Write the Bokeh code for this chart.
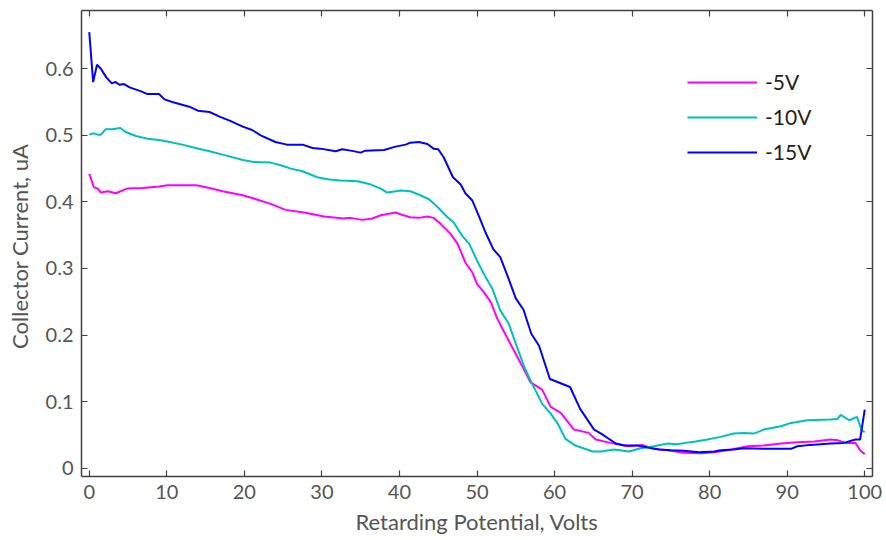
from bokeh.plotting import figure
from bokeh.models import Range1d, LinearAxis, FixedTicker, Legend, LegendItem
from bokeh.embed import file_html
from bokeh.resources import INLINE

# -15V series
x15 = [0, 0.5, 1.0, 1.5, 2.2, 2.9, 3.4, 3.9, 4.5, 5.2, 6.7, 7.5, 9.0, 9.7, 10.7, 12.9, 14.0, 15.5,
       16.8, 18.1, 19.8, 21.0, 22.1, 24.0, 25.5, 27.5, 28.8, 29.8, 31.8, 32.6, 33.7, 35.0, 35.6, 38.0,
       39.5, 40.8, 41.4, 42.5, 43.6, 44.4, 45.0, 45.7, 46.9, 47.9, 48.5, 49.4, 50.3, 51.1, 52.1, 53.0,
       53.9, 55.0, 56.0, 57.0, 58.0, 59.4, 62.0, 63.3, 65.1, 66.0, 67.9, 69.0, 70.7, 72.0, 73.5, 75.0,
       76.7, 78.6, 80.6, 81.4, 83.1, 84.4, 87.0, 90.5, 91.3, 93.0, 95.6, 97.3, 98.8, 99.4, 100.0]
y15 = [0.655, 0.580, 0.606, 0.600, 0.587, 0.578, 0.580, 0.576, 0.577, 0.572, 0.566, 0.562, 0.562, 0.554,
       0.550, 0.543, 0.537, 0.535, 0.528, 0.522, 0.513, 0.508, 0.500, 0.490, 0.486, 0.486, 0.481, 0.480,
       0.476, 0.479, 0.477, 0.474, 0.477, 0.478, 0.483, 0.486, 0.489, 0.490, 0.487, 0.480, 0.479, 0.467,
       0.437, 0.426, 0.413, 0.402, 0.377, 0.354, 0.329, 0.317, 0.290, 0.255, 0.238, 0.202, 0.184, 0.134,
       0.122, 0.089, 0.058, 0.052, 0.037, 0.034, 0.034, 0.031, 0.028, 0.027, 0.026, 0.024, 0.025, 0.027,
       0.028, 0.030, 0.029, 0.029, 0.033, 0.035, 0.037, 0.038, 0.043, 0.043, 0.088]

# -10V series
x10 = [0, 0.6, 1.1, 1.5, 2.1, 3.0, 4.0, 4.7, 6.0, 7.5, 9.0, 9.9, 12.0, 13.7, 15.5, 17.2, 19.8, 21.2,
       23.4, 24.7, 26.0, 27.5, 29.4, 30.7, 32.4, 34.6, 36.1, 37.6, 38.4, 40.2, 41.4, 42.7, 43.8, 44.5,
       45.1, 46.2, 47.0, 48.1, 49.0, 50.0, 51.1, 52.0, 53.0, 54.1, 55.0, 56.1, 57.1, 58.4, 59.5, 60.4,
       61.4, 62.7, 64.9, 66.0, 67.7, 69.6, 71.1, 72.8, 74.6, 75.8, 76.9, 78.2, 79.7, 81.4, 83.1, 84.4,
       85.7, 87.0, 89.2, 90.5, 92.6, 95.6, 96.5, 96.9, 98.0, 99.0, 99.6, 100.0]
y10 = [0.501, 0.503, 0.501, 0.501, 0.509, 0.509, 0.511, 0.505, 0.499, 0.495, 0.493, 0.491, 0.486, 0.481,
       0.476, 0.471, 0.463, 0.460, 0.459, 0.455, 0.450, 0.446, 0.437, 0.434, 0.432, 0.431, 0.427, 0.420,
       0.414, 0.417, 0.416, 0.410, 0.404, 0.397, 0.390, 0.377, 0.369, 0.349, 0.337, 0.312, 0.287, 0.269,
       0.237, 0.217, 0.187, 0.152, 0.127, 0.097, 0.082, 0.067, 0.044, 0.034, 0.025, 0.025, 0.028, 0.025,
       0.030, 0.033, 0.037, 0.036, 0.038, 0.040, 0.043, 0.047, 0.052, 0.053, 0.052, 0.058, 0.063, 0.068,
       0.072, 0.073, 0.074, 0.080, 0.072, 0.077, 0.057, 0.054]

# -5V series
x5 = [0, 0.6, 1.1, 1.5, 2.4, 3.4, 4.9, 6.9, 9.0, 10.1, 13.8, 15.5, 17.2, 19.8, 21.2, 23.4, 25.3, 27.7,
      30.3, 32.8, 33.7, 35.2, 36.5, 37.6, 39.5, 40.2, 41.4, 42.5, 43.6, 44.4, 45.3, 46.6, 47.5, 48.5,
      49.4, 50.0, 50.9, 51.8, 52.6, 53.7, 54.8, 55.8, 56.9, 58.4, 59.5, 60.8, 62.5, 64.4, 65.3, 67.2,
      69.6, 71.3, 72.8, 74.6, 76.7, 78.9, 80.6, 82.3, 84.9, 87.0, 89.2, 91.3, 93.5, 95.6, 96.5, 97.5,
      98.8, 99.4, 100.0]
y5 = [0.442, 0.422, 0.420, 0.414, 0.416, 0.413, 0.420, 0.421, 0.423, 0.425, 0.425, 0.421, 0.416, 0.410,
      0.405, 0.397, 0.388, 0.384, 0.378, 0.375, 0.376, 0.373, 0.375, 0.380, 0.384, 0.381, 0.377, 0.376,
      0.378, 0.376, 0.367, 0.352, 0.337, 0.309, 0.294, 0.277, 0.264, 0.249, 0.225, 0.200, 0.176, 0.154,
      0.129, 0.118, 0.092, 0.083, 0.058, 0.053, 0.043, 0.038, 0.033, 0.035, 0.029, 0.027, 0.023, 0.0225,
      0.024, 0.027, 0.033, 0.034, 0.037, 0.039, 0.040, 0.043, 0.042, 0.038, 0.038, 0.027, 0.021]

x_ticks = [0, 10, 20, 30, 40, 50, 60, 70, 80, 90, 100]
y_ticks = [0, 0.1, 0.2, 0.3, 0.4, 0.5, 0.6]
y_tick_labels = ["0", "0.1", "0.2", "0.3", "0.4", "0.5", "0.6"]
series_labels = ["-5V", "-10V", "-15V"]
series_colors = ["#FF00FF", "#00BFBF", "#0000FF"]

FONT = "Lato"
AX = "#404040"
TXT = "#555555"

p = figure(width=886, height=540, output_backend="svg", toolbar_location=None,
           x_range=Range1d(-1, 101), y_range=Range1d(-0.0125, 0.6875),
           min_border_left=81, min_border_right=14, min_border_top=10, min_border_bottom=64)
p.background_fill_color = "white"
p.border_fill_color = "white"
p.outline_line_color = None
p.xgrid.visible = False
p.ygrid.visible = False

r5 = p.line(x5, y5, line_color=series_colors[0], line_width=2)
r10 = p.line(x10, y10, line_color=series_colors[1], line_width=2)
r15 = p.line(x15, y15, line_color=series_colors[2], line_width=2)

xa = p.xaxis[0]
xa.ticker = FixedTicker(ticks=x_ticks)
xa.axis_label = "Retarding Potential, Volts"
ya = p.yaxis[0]
ya.ticker = FixedTicker(ticks=y_ticks)
ya.major_label_overrides = {t: l for t, l in zip(y_ticks, y_tick_labels)}
ya.axis_label = "Collector Current,  uA"

for ax in (xa, ya):
    ax.axis_line_color = AX
    ax.axis_line_width = 1.5
    ax.major_tick_line_color = AX
    ax.major_tick_line_width = 1.2
    ax.major_tick_in = 6
    ax.major_tick_out = 0
    ax.minor_tick_line_color = None
    ax.major_label_text_font = FONT
    ax.major_label_text_font_size = "20px"
    ax.major_label_text_color = TXT
    ax.axis_label_text_font = FONT
    ax.axis_label_text_font_size = "22px"
    ax.axis_label_text_font_style = "normal"
    ax.axis_label_text_color = TXT

xa.major_label_standoff = 8
xa.axis_label_standoff = 6
ya.major_label_standoff = 8
ya.axis_label_standoff = 10

# top and right frame axes: ticks only, labels left empty
top = LinearAxis(ticker=FixedTicker(ticks=x_ticks))
top.major_label_overrides = {t: "" for t in x_ticks}
right = LinearAxis(ticker=FixedTicker(ticks=y_ticks))
right.major_label_overrides = {t: "" for t in y_ticks}
for ax in (top, right):
    ax.axis_line_color = AX
    ax.axis_line_width = 1.5
    ax.major_tick_line_color = AX
    ax.major_tick_line_width = 1.2
    ax.major_tick_in = 6
    ax.major_tick_out = 0
    ax.minor_tick_line_color = None
    ax.major_label_text_font_size = "1px"
    ax.major_label_standoff = 0
p.add_layout(top, "above")
p.add_layout(right, "right")

legend = Legend(items=[LegendItem(label=series_labels[0], renderers=[r5]),
                       LegendItem(label=series_labels[1], renderers=[r10]),
                       LegendItem(label=series_labels[2], renderers=[r15])],
                location=(606, 312))
legend.border_line_color = None
legend.background_fill_alpha = 0
legend.padding = 0
legend.margin = 0
legend.glyph_width = 70
legend.glyph_height = 20
legend.label_height = 20
legend.spacing = 10
legend.label_standoff = 8
legend.label_text_font = FONT
legend.label_text_font_size = "21px"
legend.label_text_color = "#222222"
p.add_layout(legend, "center")

open("out.html", "w").write(file_html(p, INLINE))
